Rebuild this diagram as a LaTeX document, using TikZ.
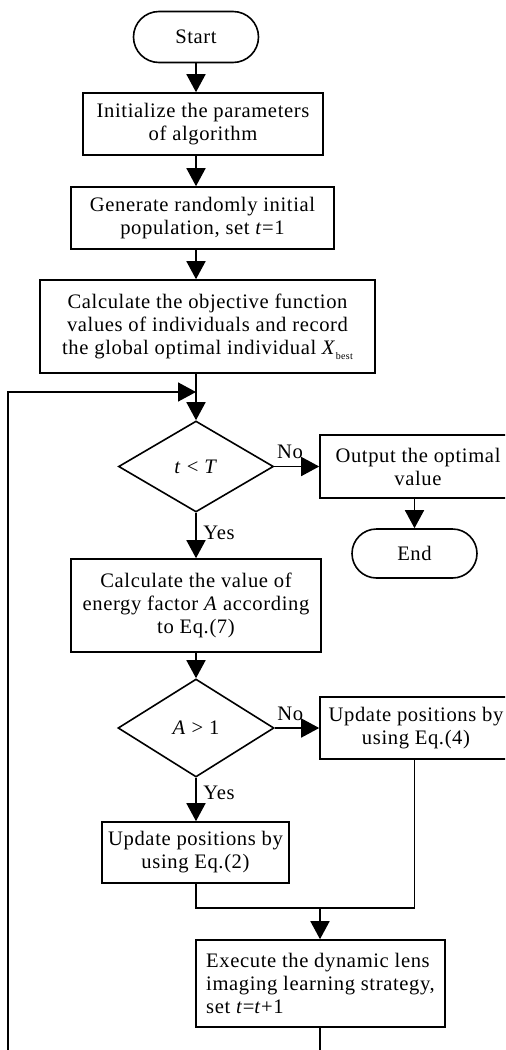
\documentclass[tikz,border=0pt]{standalone}
\usepackage{fontspec}
\setmainfont{Liberation Serif}[LetterSpace=3.0]
\usepackage{tikz}
\usetikzlibrary{arrows.meta,shapes.geometric,shapes.misc}

\begin{document}
\begin{tikzpicture}[x=0.5pt,y=-0.5pt,
        every node/.style={font=\fontsize{10.3}{11.5}\selectfont},
        box/.style={draw, line width=0.8pt, rectangle, align=center, inner sep=0pt},
        term/.style={draw, line width=0.8pt, rounded rectangle, inner sep=0pt},
        test/.style={draw, line width=0.8pt, diamond, inner sep=0pt},
        arr/.style={line width=0.8pt, -{Triangle[length=9pt,width=9.5pt]}},
        wire/.style={line width=0.8pt}]
                \useasboundingbox (0,0) rectangle (505,1050);
                \clip (0,0) rectangle (505,1050);
                \node[term, minimum width=62.5pt, minimum height=25.5pt] (start) at (196,37) {Start};
                \node[box, minimum width=120pt, minimum height=31pt] (init) at (203,124) {Initialize the parameters\\of algorithm};
                \node[box, minimum width=131.5pt, minimum height=31pt] (gen) at (202.5,218) {Generate randomly initial\\population, set \textit{t}=1};
                \node[box, minimum width=167.5pt, minimum height=46.5pt] (calc) at (207.5,326.5) {Calculate the objective function\\values of individuals and record\\the global optimal individual \textit{X}\raisebox{-0.5ex}{\fontsize{5}{5}\selectfont best}};
                \coordinate (join) at (196,392);
                \node[test, minimum width=77.5pt, minimum height=45.5pt] (cond1) at (196,466.5) {\textit{t} < \textit{T}};
                \node[box, minimum width=98pt, minimum height=31.5pt] (output) at (418,466.5) {Output the optimal\\value};
                \node[term, minimum width=62.5pt, minimum height=24.5pt] (end) at (414.5,553.5) {End};
                \node[box, minimum width=125pt, minimum height=46.5pt] (calcA) at (196,605.5) {Calculate the value of\\energy factor \textit{A} according\\to Eq.(7)};
                \node[test, minimum width=78pt, minimum height=49pt] (cond2) at (196,728) {\textit{A} > 1};
                \node[box, minimum width=96pt, minimum height=31pt] (upd4) at (416,728) {Update positions by\\using Eq.(4)};
                \node[box, minimum width=93.5pt, minimum height=30.5pt] (upd2) at (195.5,852.5) {Update positions by\\using Eq.(2)};
                \coordinate (merge) at (320,908);
                \node[box, align=left, minimum width=124.5pt, minimum height=43.5pt] (exec) at (320.5,983.5) {Execute the dynamic lens\\imaging learning strategy,\\set \textit{t}=\textit{t}+1};
                \coordinate (low) at (320,1065);
                \coordinate (lowleft) at (8,1065);
                \draw[arr] (start.south) -- (start.south |- init.north);
                \draw[arr] (init.south -| start) -- (gen.north -| start);
                \draw[arr] (gen.south -| start) -- (calc.north -| start);
                \draw[arr] (calc.south -| start) -- (cond1.north);
                \draw[arr] (cond1.east) -- node[pos=0.35, above] {No} (output.west |- cond1.east);
                \draw[arr] (output.south -| end) -- (end.north);
                \draw[arr] (cond1.south) -- node[pos=0.45, right] {Yes} (calcA.north);
                \draw[arr] (calcA.south) -- (cond2.north);
                \draw[arr] (cond2.east) -- node[pos=0.35, above] {No} (upd4.west |- cond2.east);
                \draw[arr] (cond2.south) -- node[pos=0.35, right] {Yes} (upd2.north -| cond2);
                \draw[wire] (upd2.south -| cond2) |- (merge) -| (upd4.south -| end);
                \draw[arr] (merge) -- (exec.north -| merge);
                \draw[arr] (exec.south -| merge) -- (low) -- (lowleft) |- (join);
            \end{tikzpicture}
\end{document}
